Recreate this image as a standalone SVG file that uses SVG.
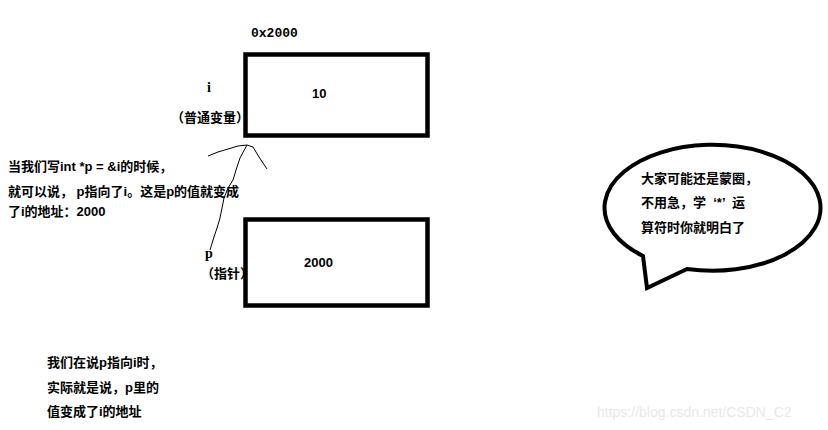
<svg xmlns="http://www.w3.org/2000/svg" width="828" height="430" viewBox="0 0 828 430">
<style>
.box{fill:#fff;stroke:#000;stroke-width:4.5}
.t{font-family:"Liberation Sans","Noto Sans CJK SC",sans-serif;font-weight:bold;font-size:13px;fill:#000}
.m{font-family:"Liberation Mono","Noto Sans CJK SC",monospace;font-weight:bold;font-size:13px;fill:#000}
.s{font-family:"Liberation Serif",serif;font-weight:bold;font-size:14px;fill:#000}
.ln{fill:none;stroke:#000;stroke-width:1}
</style>
<rect width="828" height="430" fill="#fff"/>
<g id="node-i">
<text class="m" x="251" y="37">0x2000</text>
<rect class="box" x="245.5" y="54.5" width="182" height="81"/>
<text class="t" x="312" y="98">10</text>
<text class="s" x="207" y="92">i</text>
<text class="t" x="171" y="122">（普通变量）</text>
</g>
<g id="node-p">
<rect class="box" x="245.5" y="219.5" width="182" height="86"/>
<text class="t" x="304" y="267">2000</text>
<text class="s" x="205" y="258">p</text>
<text class="t" x="201" y="278">（指针）</text>
</g>
<g id="connectors">
<path class="ln" d="M210,250 L213,240 L217,228 L220,218 L222,208 L224,198 L228,188 L233,180 L236,170 L240,158 L247,145"/>
<path class="ln" d="M208,156 L218,152 L228,149 L238,146 L247,145 L253,147 L259,157 L267,169"/>
</g>
<g id="note-left">
<text class="t" x="8" y="171">当我们写int *p = &amp;i的时候，</text>
<text class="t" x="8" y="196">就可以说， p指向了i。这是p的值就变成</text>
<text class="t" x="8" y="216">了i的地址：2000</text>
</g>
<g id="bubble">
<path d="M643,256 A108,63 0 1 1 687,269 L647,288 Z" fill="#fff" stroke="#000" stroke-width="4" stroke-linejoin="miter"/>
<text class="t" x="641" y="183" font-size="12.5">大家可能还是蒙圈，</text>
<text class="t" x="641" y="207" font-size="12.5" xml:space="preserve">不用急，学  ‘*’  运</text>
<text class="t" x="641" y="232" font-size="12.5">算符时你就明白了</text>
</g>
<g id="note-bottom">
<text class="t" x="47" y="367">我们在说p指向i时，</text>
<text class="t" x="47" y="392">实际就是说，p里的</text>
<text class="t" x="47" y="416">值变成了i的地址</text>
</g>
<text x="597" y="417" font-family="Liberation Sans,sans-serif" font-size="14" fill="#e8e8e8">https://blog.csdn.net/CSDN_C2</text>
</svg>
